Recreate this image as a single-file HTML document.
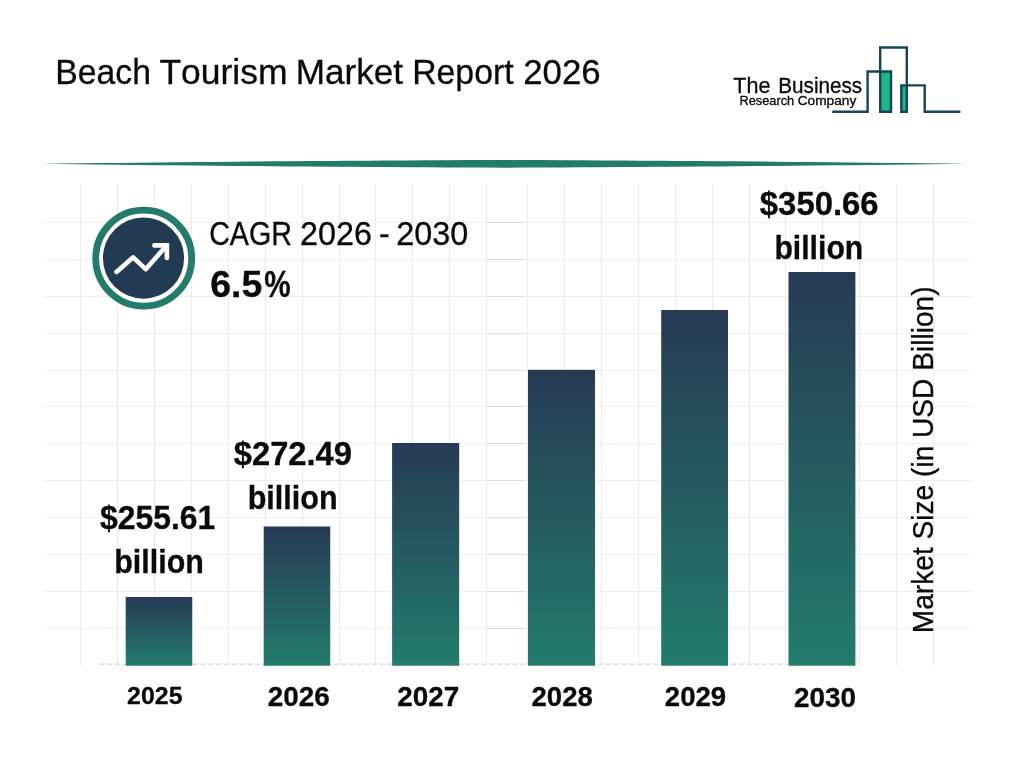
<!DOCTYPE html>
<html lang="en">
<head>
<meta charset="utf-8">
<title>Beach Tourism Market Report 2026</title>
<style>
html,body{margin:0;padding:0;background:#fff;}
body{width:1024px;height:768px;overflow:hidden;font-family:"Liberation Sans",sans-serif;}
svg{display:block;}
text{font-family:"Liberation Sans",sans-serif;fill:#0a0a0a;font-kerning:none;stroke:#0a0a0a;stroke-width:0.3px;}
.b{font-weight:700;}
</style>
</head>
<body>
<svg width="1024" height="768" viewBox="0 0 1024 768">
<defs>
<linearGradient id="bar" x1="0" y1="0" x2="0" y2="1">
<stop offset="0" stop-color="#273a54"/>
<stop offset="1" stop-color="#227c6c"/>
</linearGradient>
</defs>
<rect width="1024" height="768" fill="#ffffff"/>

<g stroke="#ebebeb" stroke-width="1" fill="none" shape-rendering="crispEdges">
<line x1="44" y1="222.5" x2="972" y2="222.5" stroke="#f0f0f0"/>
<line x1="44" y1="259.5" x2="972" y2="259.5" stroke="#f0f0f0"/>
<line x1="44" y1="296.5" x2="972" y2="296.5" stroke="#f0f0f0"/>
<line x1="44" y1="333.5" x2="972" y2="333.5" stroke="#f0f0f0"/>
<line x1="44" y1="370.5" x2="972" y2="370.5" stroke="#f0f0f0"/>
<line x1="44" y1="406.5" x2="972" y2="406.5" stroke="#f0f0f0"/>
<line x1="44" y1="443.5" x2="972" y2="443.5" stroke="#f0f0f0"/>
<line x1="44" y1="480.5" x2="972" y2="480.5" stroke="#f0f0f0"/>
<line x1="44" y1="517.5" x2="972" y2="517.5" stroke="#f0f0f0"/>
<line x1="44" y1="554.5" x2="972" y2="554.5" stroke="#f0f0f0"/>
<line x1="44" y1="591.5" x2="972" y2="591.5" stroke="#f0f0f0"/>
<line x1="44" y1="628.5" x2="972" y2="628.5" stroke="#f0f0f0"/>
<line x1="488" y1="222.5" x2="525" y2="222.5" stroke="#dddddd"/>
<line x1="488" y1="259.5" x2="525" y2="259.5" stroke="#dddddd"/>
<line x1="488" y1="296.5" x2="525" y2="296.5" stroke="#dddddd"/>
<line x1="488" y1="333.5" x2="525" y2="333.5" stroke="#dddddd"/>
<line x1="488" y1="370.5" x2="525" y2="370.5" stroke="#dddddd"/>
<line x1="488" y1="406.5" x2="525" y2="406.5" stroke="#dddddd"/>
<line x1="488" y1="443.5" x2="525" y2="443.5" stroke="#dddddd"/>
<line x1="488" y1="480.5" x2="525" y2="480.5" stroke="#dddddd"/>
<line x1="488" y1="517.5" x2="525" y2="517.5" stroke="#dddddd"/>
<line x1="488" y1="554.5" x2="525" y2="554.5" stroke="#dddddd"/>
<line x1="488" y1="591.5" x2="525" y2="591.5" stroke="#dddddd"/>
<line x1="488" y1="628.5" x2="525" y2="628.5" stroke="#dddddd"/>
<line x1="80.5" y1="184" x2="80.5" y2="665"/>
<line x1="117.5" y1="184" x2="117.5" y2="665"/>
<line x1="154.5" y1="184" x2="154.5" y2="665"/>
<line x1="191.5" y1="184" x2="191.5" y2="665"/>
<line x1="228.5" y1="184" x2="228.5" y2="665"/>
<line x1="265.5" y1="184" x2="265.5" y2="665"/>
<line x1="302.5" y1="184" x2="302.5" y2="665"/>
<line x1="339.5" y1="184" x2="339.5" y2="665"/>
<line x1="375.5" y1="184" x2="375.5" y2="665"/>
<line x1="412.5" y1="184" x2="412.5" y2="665"/>
<line x1="449.5" y1="184" x2="449.5" y2="665"/>
<line x1="486.5" y1="184" x2="486.5" y2="665"/>
<line x1="527.5" y1="184" x2="527.5" y2="665"/>
<line x1="564.5" y1="184" x2="564.5" y2="665"/>
<line x1="601.5" y1="184" x2="601.5" y2="665"/>
<line x1="638.5" y1="184" x2="638.5" y2="665"/>
<line x1="675.5" y1="184" x2="675.5" y2="665"/>
<line x1="712.5" y1="184" x2="712.5" y2="665"/>
<line x1="749.5" y1="184" x2="749.5" y2="665"/>
<line x1="785.5" y1="184" x2="785.5" y2="665"/>
<line x1="822.5" y1="184" x2="822.5" y2="665"/>
<line x1="859.5" y1="184" x2="859.5" y2="665"/>
<line x1="896.5" y1="184" x2="896.5" y2="665"/>
<line x1="933.5" y1="184" x2="933.5" y2="665"/>
</g>
<line x1="99" y1="664.3" x2="788" y2="664.3" stroke="#dcdcdc" stroke-width="1.4" stroke-dasharray="5.3 2.5"/>
<path d="M40.0 163.80 L59.3 163.56 L78.7 163.33 L98.0 163.10 L117.3 162.88 L136.7 162.67 L156.0 162.46 L175.3 162.26 L194.7 162.07 L214.0 161.88 L233.3 161.70 L252.7 161.53 L272.0 161.36 L291.3 161.20 L310.7 161.05 L330.0 160.91 L349.3 160.77 L368.7 160.63 L388.0 160.51 L407.3 160.39 L426.7 160.28 L446.0 160.17 L465.3 160.08 L484.7 159.98 L504.0 159.90 L523.3 159.98 L542.7 160.08 L562.0 160.17 L581.3 160.28 L600.7 160.39 L620.0 160.51 L639.3 160.63 L658.7 160.77 L678.0 160.91 L697.3 161.05 L716.7 161.20 L736.0 161.36 L755.3 161.53 L774.7 161.70 L794.0 161.88 L813.3 162.07 L832.7 162.26 L852.0 162.46 L871.3 162.67 L890.7 162.88 L910.0 163.10 L929.3 163.33 L948.7 163.56 L968.0 163.80 L968.0 163.80 L948.7 164.04 L929.3 164.27 L910.0 164.50 L890.7 164.72 L871.3 164.93 L852.0 165.14 L832.7 165.34 L813.3 165.53 L794.0 165.72 L774.7 165.90 L755.3 166.07 L736.0 166.24 L716.7 166.40 L697.3 166.55 L678.0 166.69 L658.7 166.83 L639.3 166.97 L620.0 167.09 L600.7 167.21 L581.3 167.32 L562.0 167.43 L542.7 167.52 L523.3 167.62 L504.0 167.70 L484.7 167.62 L465.3 167.52 L446.0 167.43 L426.7 167.32 L407.3 167.21 L388.0 167.09 L368.7 166.97 L349.3 166.83 L330.0 166.69 L310.7 166.55 L291.3 166.40 L272.0 166.24 L252.7 166.07 L233.3 165.90 L214.0 165.72 L194.7 165.53 L175.3 165.34 L156.0 165.14 L136.7 164.93 L117.3 164.72 L98.0 164.50 L78.7 164.27 L59.3 164.04 L40.0 163.80 Z" fill="#237b6a"/>
<rect x="125.70" y="597.00" width="66.55" height="68.75" fill="url(#bar)"/>
<rect x="263.70" y="526.50" width="66.55" height="139.25" fill="url(#bar)"/>
<rect x="392.10" y="443.00" width="67.10" height="222.75" fill="url(#bar)"/>
<rect x="528.00" y="369.80" width="67.00" height="295.95" fill="url(#bar)"/>
<rect x="661.20" y="310.00" width="66.80" height="355.75" fill="url(#bar)"/>
<rect x="788.50" y="272.00" width="66.90" height="393.75" fill="url(#bar)"/>
<g>
<circle cx="143.7" cy="258.2" r="48" fill="#ffffff" stroke="#237b6b" stroke-width="6.8"/>
<circle cx="143.5" cy="258.1" r="40.6" fill="#223a52"/>
<path d="M116.5 271.9 L133.2 257.3 L145.7 269.2 L166.6 245.6" fill="none" stroke="#ffffff" stroke-width="4.6" stroke-linecap="round" stroke-linejoin="round"/>
<path d="M154.4 245.4 H166.9 V257.9" fill="none" stroke="#ffffff" stroke-width="4.6" stroke-linecap="round" stroke-linejoin="miter"/>
</g>
<g fill="none" stroke="#174558" stroke-width="2.4">
<rect x="880.2" y="71.5" width="10.8" height="40.3" fill="#21b586" stroke="none"/>
<rect x="901.3" y="85.4" width="5.5" height="26.4" fill="#21b586" stroke="none"/>
<path d="M832.2 111.8 H867.6 V71.5 H891 V111.8 H880.2 V47.5 H906.8 V111.8 H901.3 V85.4 H924.7 V111.8 H960.4"/>
</g>
<text y="92.50" font-size="21.20" fill="#1c1c1c" stroke="#ffffff" stroke-width="0.35"><tspan x="733.32" textLength="37.14" lengthAdjust="spacingAndGlyphs">The</tspan> <tspan x="778.20" textLength="84.05" lengthAdjust="spacingAndGlyphs">Business</tspan></text>
<text y="104.75" font-size="11.90" fill="#1c1c1c" stroke="#ffffff" stroke-width="0.35"><tspan x="739.45" textLength="54.78" lengthAdjust="spacingAndGlyphs">Research</tspan> <tspan x="797.70" textLength="58.62" lengthAdjust="spacingAndGlyphs">Company</tspan></text>
<text y="83.70" font-size="35.70"><tspan x="55.23" textLength="95.71" lengthAdjust="spacingAndGlyphs">Beach</tspan> <tspan x="159.40" textLength="128.14" lengthAdjust="spacingAndGlyphs">Tourism</tspan> <tspan x="295.72" textLength="107.34" lengthAdjust="spacingAndGlyphs">Market</tspan> <tspan x="412.23" textLength="101.32" lengthAdjust="spacingAndGlyphs">Report</tspan> <tspan x="523.25" textLength="77.48" lengthAdjust="spacingAndGlyphs">2026</tspan></text>
<text y="245.00" font-size="33.30"><tspan x="209.14" textLength="82.78" lengthAdjust="spacingAndGlyphs">CAGR</tspan> <tspan x="299.97" textLength="71.95" lengthAdjust="spacingAndGlyphs">2026</tspan> <tspan x="378.88" textLength="10.64" lengthAdjust="spacingAndGlyphs">-</tspan> <tspan x="396.17" textLength="71.99" lengthAdjust="spacingAndGlyphs">2030</tspan></text>
<text y="296.60" font-size="37.80" class="b"><tspan x="210.13" textLength="52.12" lengthAdjust="spacingAndGlyphs">6.5</tspan><tspan x="264.16" textLength="26.37" lengthAdjust="spacingAndGlyphs">%</tspan></text>
<text x="100.08" y="528.50" font-size="33.10" textLength="115.21" lengthAdjust="spacingAndGlyphs" class="b">$255.61</text>
<text x="114.29" y="572.60" font-size="33.10" textLength="89.59" lengthAdjust="spacingAndGlyphs" class="b">billion</text>
<text x="233.77" y="464.80" font-size="33.10" textLength="118.25" lengthAdjust="spacingAndGlyphs" class="b">$272.49</text>
<text x="247.68" y="509.00" font-size="33.10" textLength="90.01" lengthAdjust="spacingAndGlyphs" class="b">billion</text>
<text x="759.87" y="214.80" font-size="33.10" textLength="118.72" lengthAdjust="spacingAndGlyphs" class="b">$350.66</text>
<text x="774.41" y="258.60" font-size="33.10" textLength="88.86" lengthAdjust="spacingAndGlyphs" class="b">billion</text>
<text x="127.14" y="704.10" font-size="24.20" textLength="55.36" lengthAdjust="spacingAndGlyphs" class="b">2025</text>
<text x="267.73" y="706.20" font-size="27.60" textLength="62.08" lengthAdjust="spacingAndGlyphs" class="b">2026</text>
<text x="397.23" y="706.00" font-size="27.60" textLength="61.99" lengthAdjust="spacingAndGlyphs" class="b">2027</text>
<text x="531.54" y="706.25" font-size="27.60" textLength="61.30" lengthAdjust="spacingAndGlyphs" class="b">2028</text>
<text x="664.84" y="705.70" font-size="27.60" textLength="61.38" lengthAdjust="spacingAndGlyphs" class="b">2029</text>
<text x="794.03" y="707.20" font-size="27.60" textLength="62.11" lengthAdjust="spacingAndGlyphs" class="b">2030</text>
<text transform="translate(932.9 633.2) rotate(-90)" x="0" y="0" font-size="28.6" textLength="346.8" lengthAdjust="spacingAndGlyphs">Market Size (in USD Billion)</text>
</svg>
</body>
</html>
